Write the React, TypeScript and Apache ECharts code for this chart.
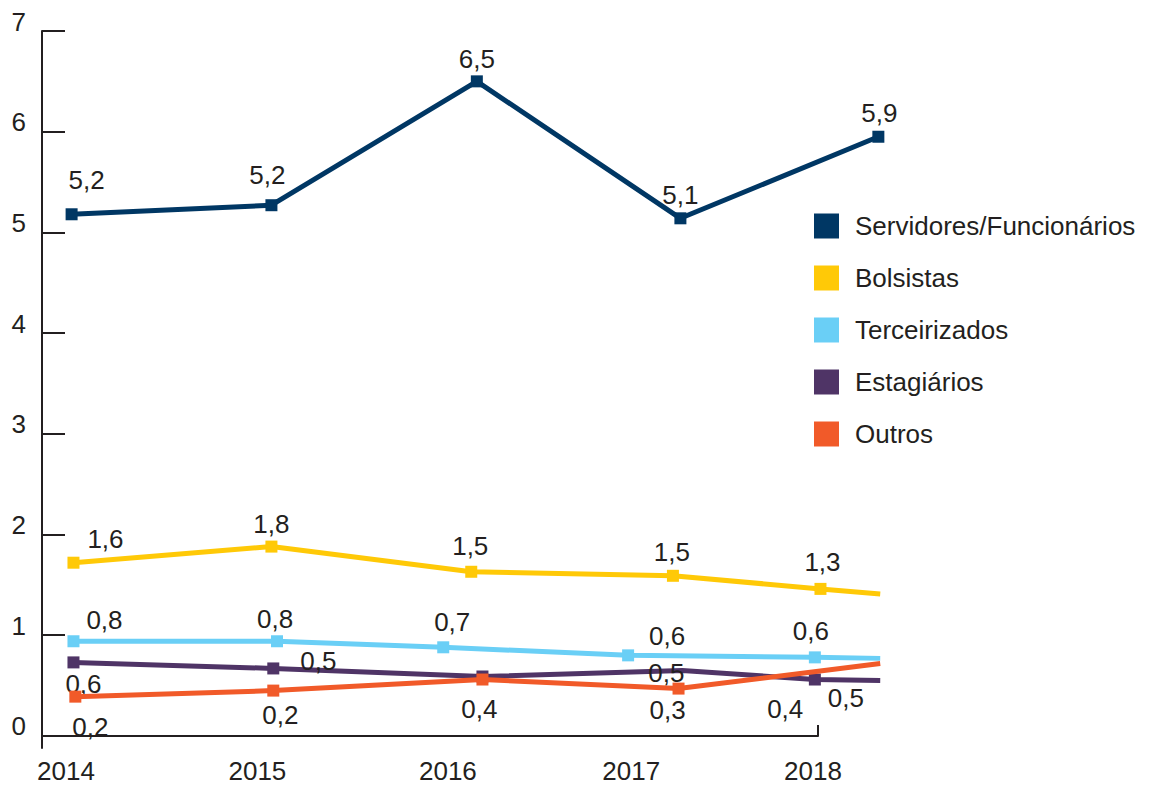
import React, { useEffect, useRef } from 'react';
import * as echarts from 'echarts';

const years = [2014, 2015, 2016, 2017, 2018];
const seriesNames = ['Servidores/Funcionários', 'Bolsistas', 'Terceirizados', 'Estagiários', 'Outros'];
const colors = ['#003764', '#FFC907', '#6ACFF6', '#4F3466', '#F15A29'];

// Horizontal positions (in years) and values
const servidoresX = [2014.03, 2015.1, 2016.2, 2017.29, 2018.35];
const servidoresY = [5.18, 5.27, 6.5, 5.14, 5.95];
const servidoresLabels = ['5,2', '5,2', '6,5', '5,1', '5,9'];
const servidoresMarker = [true, true, true, true, true];

const bolsistasX = [2014.04, 2015.1, 2016.17, 2017.25, 2018.04, 2018.36];
const bolsistasY = [1.72, 1.88, 1.63, 1.59, 1.46, 1.41];
const bolsistasLabels = ['1,6', '1,8', '1,5', '1,5', '1,3', ''];
const bolsistasMarker = [true, true, true, true, true, false];

const terceirizadosX = [2014.04, 2015.13, 2016.02, 2017.01, 2018.01, 2018.36];
const terceirizadosY = [0.94, 0.94, 0.88, 0.8, 0.78, 0.77];
const terceirizadosLabels = ['0,8', '0,8', '0,7', '0,6', '0,6', ''];
const terceirizadosMarker = [true, true, true, true, true, false];

const estagiariosX = [2014.04, 2015.11, 2016.23, 2017.3, 2018.01, 2018.36];
const estagiariosY = [0.73, 0.67, 0.59, 0.65, 0.56, 0.55];
const estagiariosLabels = ['0,6', '0,5', '', '0,5', '0,5', ''];
const estagiariosMarker = [true, true, true, false, true, false];

const outrosX = [2014.05, 2015.11, 2016.23, 2017.28, 2018.36];
const outrosY = [0.39, 0.45, 0.56, 0.47, 0.72];
const outrosLabels = ['0,2', '0,2', '0,4', '0,3', '0,4'];
const outrosMarker = [true, true, true, true, false];

const yLabelValues = [0, 1, 2, 3, 4, 5, 6, 7];
const yTickValues = [1, 2, 3, 4, 5, 6, 7];

// label placement (styling)
const labelOffsets = [
  [[15, -34], [-4, -30], [0, -22], [0, -23], [1, -24]],
  [[32, -24], [0, -23], [-1, -26], [-1, -24], [2, -27], [0, 0]],
  [[31, -21], [-2, -22], [9, -25], [39, -19], [-4, -26], [0, 0]],
  [[10, 22], [45, -7], [0, 0], [-16, 3], [31, 18], [0, 0]],
  [[15, 30], [7, 24], [-3, 29], [-11, 21], [-95, 46]],
];
// where the year labels sit along the axis (styling)
const yearLabelSpots = [2014, 2015.025, 2016.045, 2017.027, 2018];

const TEXT = '#231f20';
const FONT = '"Liberation Sans", Arial, sans-serif';
const Y_MIN = -0.12;
const Y_MAX = 7;
const X_MIN = 2013.8715;
const X_MAX = 2018.0268;
// wider drawing grid for the series (lines run past the axis end)
const AXIS_LEFT = 42;
const AXIS_RIGHT = 818;
const PLOT_RIGHT = 900;
const X_PLOT_MAX = X_MIN + ((X_MAX - X_MIN) * (PLOT_RIGHT - AXIS_LEFT)) / (AXIS_RIGHT - AXIS_LEFT);

export default function App() {
  const ref = useRef<HTMLDivElement>(null);
  useEffect(() => {
    if (!ref.current) return;
    const chart = echarts.init(ref.current, null, { renderer: 'svg' });
    const groups = [
      [servidoresX, servidoresY, servidoresLabels, servidoresMarker],
      [bolsistasX, bolsistasY, bolsistasLabels, bolsistasMarker],
      [terceirizadosX, terceirizadosY, terceirizadosLabels, terceirizadosMarker],
      [estagiariosX, estagiariosY, estagiariosLabels, estagiariosMarker],
      [outrosX, outrosY, outrosLabels, outrosMarker],
    ] as [number[], number[], string[], boolean[]][];

    const series = groups.map(([xs, ys, labels, markers], si) => ({
      type: 'line',
      name: seriesNames[si],
      xAxisIndex: 1,
      yAxisIndex: 1,
      color: colors[si],
      clip: false,
      symbol: 'rect',
      symbolSize: 12,
      lineStyle: { width: 5, color: colors[si] },
      itemStyle: { color: colors[si], borderWidth: 0 },
      z: 2 + si,
      data: xs.map((x, i) => {
        const txt = labels[i];
        const item: any = {
          value: [x, ys[i]],
          label: {
            show: txt !== '',
            formatter: txt,
            position: 'inside',
            offset: labelOffsets[si][i],
            color: TEXT,
            fontSize: 26,
            fontFamily: FONT,
          },
        };
        if (!markers[i]) {
          if (txt === '') item.symbol = 'none';
          else item.itemStyle = { color: 'rgba(0,0,0,0)', borderWidth: 0 };
        }
        return item;
      }),
    }));

    chart.setOption({
      animation: false,
      backgroundColor: '#ffffff',
      grid: [
        { left: AXIS_LEFT, right: 1152 - AXIS_RIGHT, top: 31, bottom: 787 - 748, containLabel: false, outerBoundsMode: 'none' },
        { left: AXIS_LEFT, right: 1152 - PLOT_RIGHT, top: 31, bottom: 787 - 748, containLabel: false, outerBoundsMode: 'none' },
      ],
      legend: {
        data: seriesNames.map((n) => ({ name: n, icon: 'rect' })),
        orient: 'vertical',
        left: 814,
        top: 213,
        padding: 0,
        itemWidth: 25,
        itemHeight: 25,
        itemGap: 26,
        selectedMode: false,
        textStyle: { fontSize: 26, color: TEXT, fontFamily: FONT, lineHeight: 26, padding: [0, 0, 0, 11] },
      },
      xAxis: [
        {
          type: 'value',
          gridIndex: 0,
          min: X_MIN,
          max: X_MAX,
          axisLine: { show: true, lineStyle: { color: TEXT, width: 2 } },
          axisTick: { show: true, inside: true, length: 11, customValues: [X_MAX], lineStyle: { color: TEXT, width: 2 } },
          axisLabel: {
            customValues: yearLabelSpots,
            formatter: (v: number) => String(years[yearLabelSpots.indexOf(v)] ?? Math.round(v)),
            fontSize: 26,
            color: TEXT,
            fontFamily: FONT,
            margin: 10,
          },
          splitLine: { show: false },
        },
        {
          type: 'value',
          gridIndex: 1,
          min: X_MIN,
          max: X_PLOT_MAX,
          show: false,
          splitLine: { show: false },
        },
      ],
      yAxis: [
        {
          type: 'value',
          gridIndex: 0,
          min: Y_MIN,
          max: Y_MAX,
          axisLine: { show: true, lineStyle: { color: TEXT, width: 2 } },
          axisTick: { show: true, inside: true, length: 23, customValues: yTickValues, lineStyle: { color: TEXT, width: 2 } },
          axisLabel: {
            customValues: yLabelValues,
            formatter: (v: number) => String(Math.round(v)),
            fontSize: 26,
            color: TEXT,
            fontFamily: FONT,
            margin: 16,
            verticalAlign: 'bottom',
            lineHeight: 19,
          },
          splitLine: { show: false },
        },
        {
          type: 'value',
          gridIndex: 1,
          min: Y_MIN,
          max: Y_MAX,
          show: false,
          splitLine: { show: false },
        },
      ],
      series,
    } as any);
    return () => chart.dispose();
  }, []);
  return <div ref={ref} style={{ position: 'absolute', left: 0, top: 0, width: 1152, height: 787 }} />;
}
